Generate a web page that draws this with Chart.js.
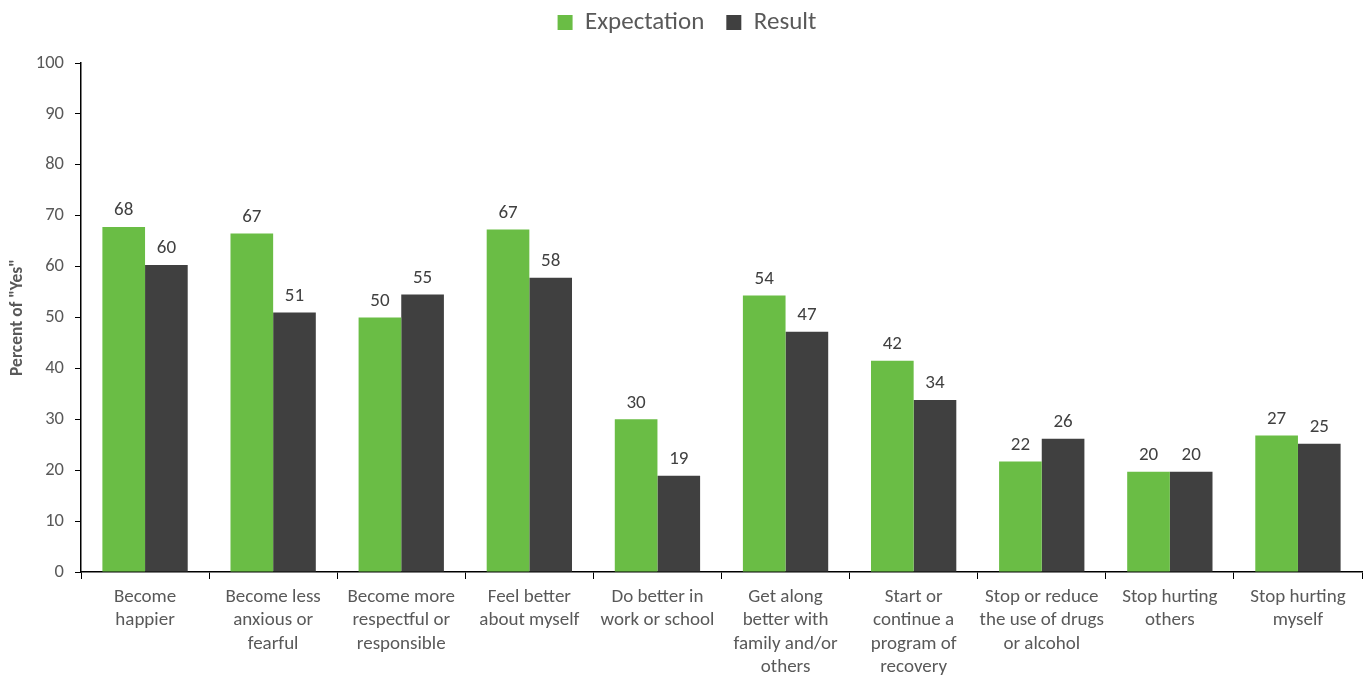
<!DOCTYPE html>
<html>
<head>
<meta charset="utf-8">
<script src="https://cdn.jsdelivr.net/npm/chart.js@4.4.1/dist/chart.umd.min.js"></script>
<style>
  html, body { margin: 0; padding: 0; background: #ffffff; overflow: hidden; }
  #wrap { width: 1370px; height: 677px; position: relative; }
</style>
</head>
<body>
<div id="wrap"><canvas id="c"></canvas></div>
<script>
const categories = [
  ["Become", "happier"],
  ["Become less", "anxious or", "fearful"],
  ["Become more", "respectful or", "responsible"],
  ["Feel better", "about myself"],
  ["Do better in", "work or school"],
  ["Get along", "better with", "family and/or", "others"],
  ["Start or", "continue a", "program of", "recovery"],
  ["Stop or reduce", "the use of drugs", "or alcohol"],
  ["Stop hurting", "others"],
  ["Stop hurting", "myself"]
];
const expectation = [67.8, 66.5, 50.0, 67.3, 30.0, 54.3, 41.5, 21.7, 19.7, 26.8];
const result = [60.3, 51.0, 54.5, 57.8, 18.9, 47.2, 33.8, 26.2, 19.7, 25.2];
const yTicks = [0, 10, 20, 30, 40, 50, 60, 70, 80, 90, 100];

const FONT = "Carlito, Lato, 'Open Sans', sans-serif";
const TEXT = "#595959";

const valueLabels = {
  id: 'valueLabels',
  afterDatasetsDraw(chart) {
    const ctx = chart.ctx;
    ctx.save();
    ctx.font = "19px " + FONT;
    ctx.fillStyle = "#404040";
    ctx.textAlign = "center";
    ctx.textBaseline = "bottom";
    chart.data.datasets.forEach((ds, i) => {
      const meta = chart.getDatasetMeta(i);
      meta.data.forEach((bar, j) => {
        ctx.fillText(String(Math.round(ds.data[j])), bar.x, bar.y - 7);
      });
    });
    ctx.restore();
  }
};

const legendSpace = {
  id: 'legendSpace',
  beforeInit(chart) {
    const lg = chart.legend;
    if (!lg) return;
    const orig = lg.fit;
    lg.fit = function () {
      orig.call(this);
      this.height += 6;
    };
  },
  afterLayout(chart) {
    const lg = chart.legend;
    if (!lg) return;
    lg.top -= 12;
    lg.bottom -= 12;
    lg.left += 6;
    lg.right += 6;
  }
};

new Chart(document.getElementById('c'), {
  type: 'bar',
  data: {
    labels: categories,
    datasets: [
      { label: 'Expectation', data: expectation, backgroundColor: '#6abd45', borderWidth: 0 },
      { label: 'Result', data: result, backgroundColor: '#404040', borderWidth: 0 }
    ]
  },
  options: {
    responsive: true,
    maintainAspectRatio: false,
    animation: false,
    layout: { padding: { top: 0, right: 8, bottom: 0, left: 0 } },
    datasets: { bar: { categoryPercentage: 0.666, barPercentage: 1.0 } },
    plugins: {
      tooltip: { enabled: false },
      legend: {
        position: 'top',
        labels: {
          font: { family: FONT, size: 25 },
          color: TEXT,
          boxWidth: 15,
          boxHeight: 15,
          padding: 22
        }
      }
    },
    scales: {
      x: {
        afterFit: s => { s.height = 105; },
        grid: { display: true, drawOnChartArea: false, drawTicks: true, tickLength: 7, color: '#000', offset: true },
        border: { display: true, color: '#000', width: 1.5 },
        ticks: {
          color: TEXT,
          font: { family: FONT, size: 19, lineHeight: 1.237 },
          maxRotation: 0,
          autoSkip: false,
          padding: 6
        }
      },
      y: {
        min: 0,
        max: 100,
        afterFit: s => { s.width = 81; },
        afterBuildTicks: s => { s.ticks = yTicks.map(v => ({ value: v })); },
        grid: { display: true, drawOnChartArea: false, drawTicks: true, tickLength: 6, color: '#000' },
        border: { display: true, color: '#000', width: 1.5 },
        ticks: {
          color: TEXT,
          font: { family: FONT, size: 18.5 },
          padding: 11
        },
        title: {
          display: true,
          text: 'Percent of "Yes"',
          color: TEXT,
          font: { family: FONT, size: 17.5, weight: 'bold' },
          padding: { top: 7, bottom: 0 }
        }
      }
    }
  },
  plugins: [valueLabels, legendSpace]
});
</script>
</body>
</html>
